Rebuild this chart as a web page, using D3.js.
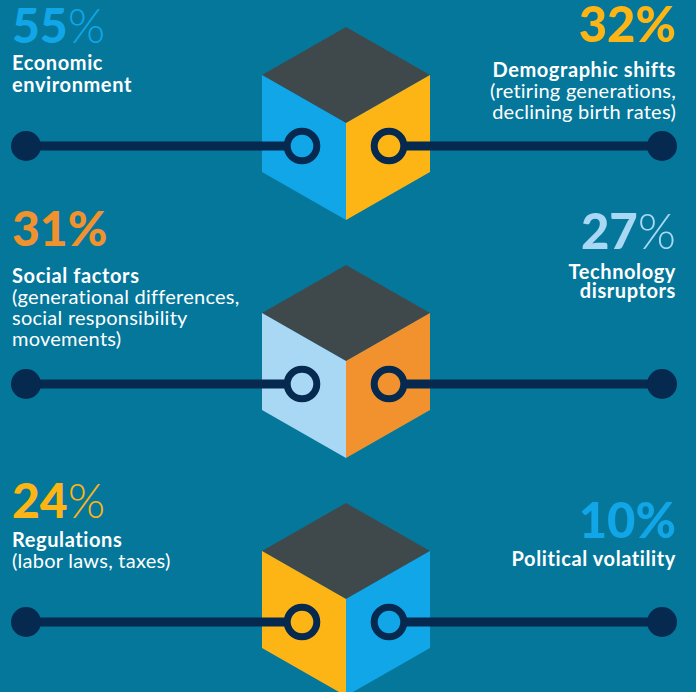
<!DOCTYPE html>
<html><head><meta charset="utf-8">
<script src="https://cdn.jsdelivr.net/npm/d3@7"></script>
<style>html,body{margin:0;padding:0;background:#04779b;}svg{display:block;}</style>
</head><body>
<svg id="c" width="696" height="692"></svg>
<script>
// ---- data ----
const leftValues = [55, 31, 24];
const rightValues = [32, 27, 10];
const leftTitles = [["Economic", "environment"], ["Social factors"], ["Regulations"]];
const leftNotes = [[], ["(generational differences,", "social responsibility", "movements)"], ["(labor laws, taxes)"]];
const rightTitles = [["Demographic shifts"], ["Technology", "disruptors"], ["Political volatility"]];
const rightNotes = [["(retiring generations,", "declining birth rates)"], [], []];
const leftFaceKeys = ["blue", "lightblue", "yellow"];
const rightFaceKeys = ["yellow", "orange", "blue"];
const leftTextKeys = ["blue", "orange", "yellow"];
const rightTextKeys = ["yellow", "lightblue", "blue"];
const percentBoldLeft = [false, true, false];
const percentBoldRight = [true, false, true];

// ---- style / layout ----
const palette = {blue: "#10a6e8", yellow: "#fdb515", lightblue: "#a9d8f4", orange: "#f2922e"};
const navy = "#06294f", topFace = "#3f494c";
const W = 696, H = 692;
const svg = d3.select("#c");
svg.append("rect").attr("width", W).attr("height", H).attr("fill", "#04779b");

const rows = d3.range(leftValues.length);
const y = d3.scaleLinear().domain([0, 2]).range([146, 622]);
const cx = 346, hw = 84, dh = 48, side = 97;
// text layout offsets (relative to row line y)
const leftPctDy = [-103, -138, -104], rightPctDy = [-104, -135, -84];
const leftLab0 = [-76, -101, -75], rightLab0 = [-69, -105, -56];
const lineH = 21;

const font = "Lato, 'Open Sans', sans-serif";
const fs = 20, ls = 0.25, lsB = 0.6;

rows.forEach(i => {
  const ry = y(i);
  const T = ry - 119;
  const g = svg.append("g");
  g.append("path").attr("fill", topFace)
    .attr("d", `M${cx},${T}L${cx+hw},${T+dh}L${cx},${T+2*dh}L${cx-hw},${T+dh}Z`);
  g.append("path").attr("fill", palette[leftFaceKeys[i]])
    .attr("d", `M${cx-hw},${T+dh}L${cx},${T+2*dh}L${cx},${T+2*dh+side}L${cx-hw},${T+dh+side}Z`);
  g.append("path").attr("fill", palette[rightFaceKeys[i]])
    .attr("d", `M${cx+hw},${T+dh}L${cx},${T+2*dh}L${cx},${T+2*dh+side}L${cx+hw},${T+dh+side}Z`);

  const lcx = 302, rcx = 389, r = 14.8;
  g.append("line").attr("x1", 26).attr("x2", lcx - r).attr("y1", ry).attr("y2", ry)
    .attr("stroke", navy).attr("stroke-width", 9);
  g.append("line").attr("x1", rcx + r).attr("x2", 662).attr("y1", ry).attr("y2", ry)
    .attr("stroke", navy).attr("stroke-width", 9);
  g.append("circle").attr("cx", 26).attr("cy", ry).attr("r", 15).attr("fill", navy);
  g.append("circle").attr("cx", 662).attr("cy", ry).attr("r", 15).attr("fill", navy);
  g.append("circle").attr("cx", lcx).attr("cy", ry).attr("r", r).attr("fill", "none")
    .attr("stroke", navy).attr("stroke-width", 7);
  g.append("circle").attr("cx", rcx).attr("cy", ry).attr("r", r).attr("fill", "none")
    .attr("stroke", navy).attr("stroke-width", 7);

  // left texts
  const lp = svg.append("text").attr("x", 12).attr("y", ry + leftPctDy[i])
    .attr("font-family", font).attr("font-size", 48).attr("fill", palette[leftTextKeys[i]]);
  lp.append("tspan").attr("font-weight", 900).text(leftValues[i]);
  lp.append("tspan").attr("font-weight", percentBoldLeft[i] ? 900 : 300).text("%");
  let yy = ry + leftLab0[i];
  leftTitles[i].forEach(s => {
    svg.append("text").attr("x", 12).attr("y", yy).attr("font-family", font)
      .attr("font-size", fs).attr("letter-spacing", lsB).attr("font-weight", 700).attr("fill", "#fff").text(s);
    yy += lineH + 1;
  });
  yy -= 1;
  leftNotes[i].forEach(s => {
    svg.append("text").attr("x", 12).attr("y", yy).attr("font-family", font)
      .attr("font-size", fs).attr("letter-spacing", ls).attr("font-weight", 400).attr("fill", "#fff").text(s);
    yy += lineH;
  });

  // right texts
  const rp = svg.append("text").attr("x", 676).attr("y", ry + rightPctDy[i]).attr("text-anchor", "end")
    .attr("font-family", font).attr("font-size", 49).attr("fill", palette[rightTextKeys[i]]);
  rp.append("tspan").attr("font-weight", 900).text(rightValues[i]);
  rp.append("tspan").attr("font-weight", percentBoldRight[i] ? 900 : 300).text("%");
  yy = ry + rightLab0[i];
  rightTitles[i].forEach(s => {
    svg.append("text").attr("x", 676).attr("y", yy).attr("text-anchor", "end").attr("font-family", font)
      .attr("font-size", fs).attr("letter-spacing", lsB).attr("font-weight", 700).attr("fill", "#fff").text(s);
    yy += lineH - 2;
  });
  yy += 2;
  rightNotes[i].forEach(s => {
    svg.append("text").attr("x", 676).attr("y", yy).attr("text-anchor", "end").attr("font-family", font)
      .attr("font-size", fs).attr("letter-spacing", ls).attr("font-weight", 400).attr("fill", "#fff").text(s);
    yy += lineH;
  });
});
</script>
</body></html>
